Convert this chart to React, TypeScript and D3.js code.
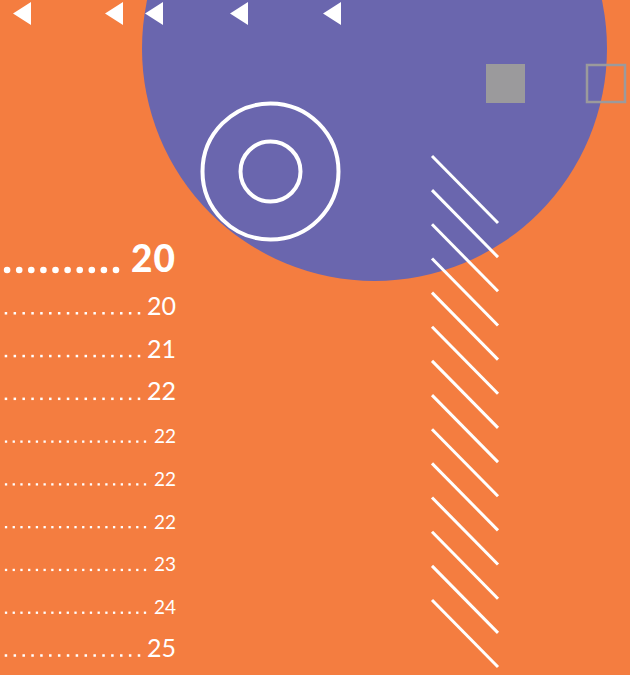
import React from "react";
import * as d3 from "d3";

// ---- data ----
const pageNumbers = ["20", "20", "21", "22", "22", "22", "22", "23", "24", "25"];
const entryLevels = [0, 1, 1, 1, 2, 2, 2, 2, 2, 1];
const arrowMarkers = [13, 105, 145, 230, 323];
const hatchCount = 14;

const W = 630;
const H = 675;
const ORANGE = "#F47D40";
const PURPLE = "#6A66AE";
const GRAY = "#9B9A9C";

const levelStyle: Record<number, { size: number; weight: number; dotR: number; dotGap: number; dotEnd: number; dotDy: number; ls: number }> = {
  0: { size: 37, weight: 900, dotR: 3.3, dotGap: 12.1, dotEnd: 116, dotDy: -2, ls: 1 },
  1: { size: 25, weight: 400, dotR: 1.25, dotGap: 8.87, dotEnd: 139, dotDy: -1.5, ls: 0 },
  2: { size: 19, weight: 400, dotR: 1.15, dotGap: 7.72, dotEnd: 145, dotDy: -1.5, ls: 0 },
};

export default function App() {
  const y = d3.scaleLinear().domain([0, pageNumbers.length - 1]).range([272, 657]);
  const hy = d3.scaleLinear().domain([0, hatchCount - 1]).range([156, 600]);

  return (
    <svg
      width={W}
      height={H}
      style={{ position: "absolute", left: 0, top: 0, display: "block" }}
      fontFamily="Lato, 'Open Sans', sans-serif"
    >
      <rect width={W} height={H} fill={ORANGE} />
      <circle cx={374.5} cy={48.5} r={232.5} fill={PURPLE} />

      {/* arrows */}
      {arrowMarkers.map((x, i) => (
        <path key={i} d={`M${x},13.5 L${x + 18},2 L${x + 18},25 Z`} fill="#fff" />
      ))}

      {/* concentric circles */}
      <circle cx={270.5} cy={171.5} r={68} fill="none" stroke="#fff" strokeWidth={4} />
      <circle cx={270.5} cy={171.5} r={30} fill="none" stroke="#fff" strokeWidth={4} />

      {/* squares */}
      <rect x={486} y={64} width={39} height={39} fill={GRAY} />
      <rect x={587} y={65} width={38} height={37} fill="none" stroke={GRAY} strokeWidth={2.5} />

      {/* hatch lines */}
      {d3.range(hatchCount).map((i) => (
        <line key={i} x1={432} y1={hy(i)} x2={498} y2={hy(i) + 67} stroke="#fff" strokeWidth={3} />
      ))}

      {/* TOC entries */}
      {pageNumbers.map((p, i) => {
        const st = levelStyle[entryLevels[i]];
        const by = y(i);
        const n = Math.floor((st.dotEnd - 5) / st.dotGap) + 1;
        const dots = d3.range(n).map((k) => st.dotEnd - (n - 1 - k) * st.dotGap);
        return (
          <g key={i}>
            {dots.map((dx, k) =>
              entryLevels[i] === 0 ? (
                <circle key={k} cx={dx} cy={by + st.dotDy} r={st.dotR} fill="#fff" />
              ) : (
                <rect key={k} x={dx - st.dotR} y={by + st.dotDy - st.dotR} width={st.dotR * 2} height={st.dotR * 2} fill="#fff" />
              )
            )}
            <text x={176} y={by} textAnchor="end" fill="#fff" fontSize={st.size} fontWeight={st.weight} letterSpacing={st.ls}>
              {p}
            </text>
          </g>
        );
      })}
    </svg>
  );
}
